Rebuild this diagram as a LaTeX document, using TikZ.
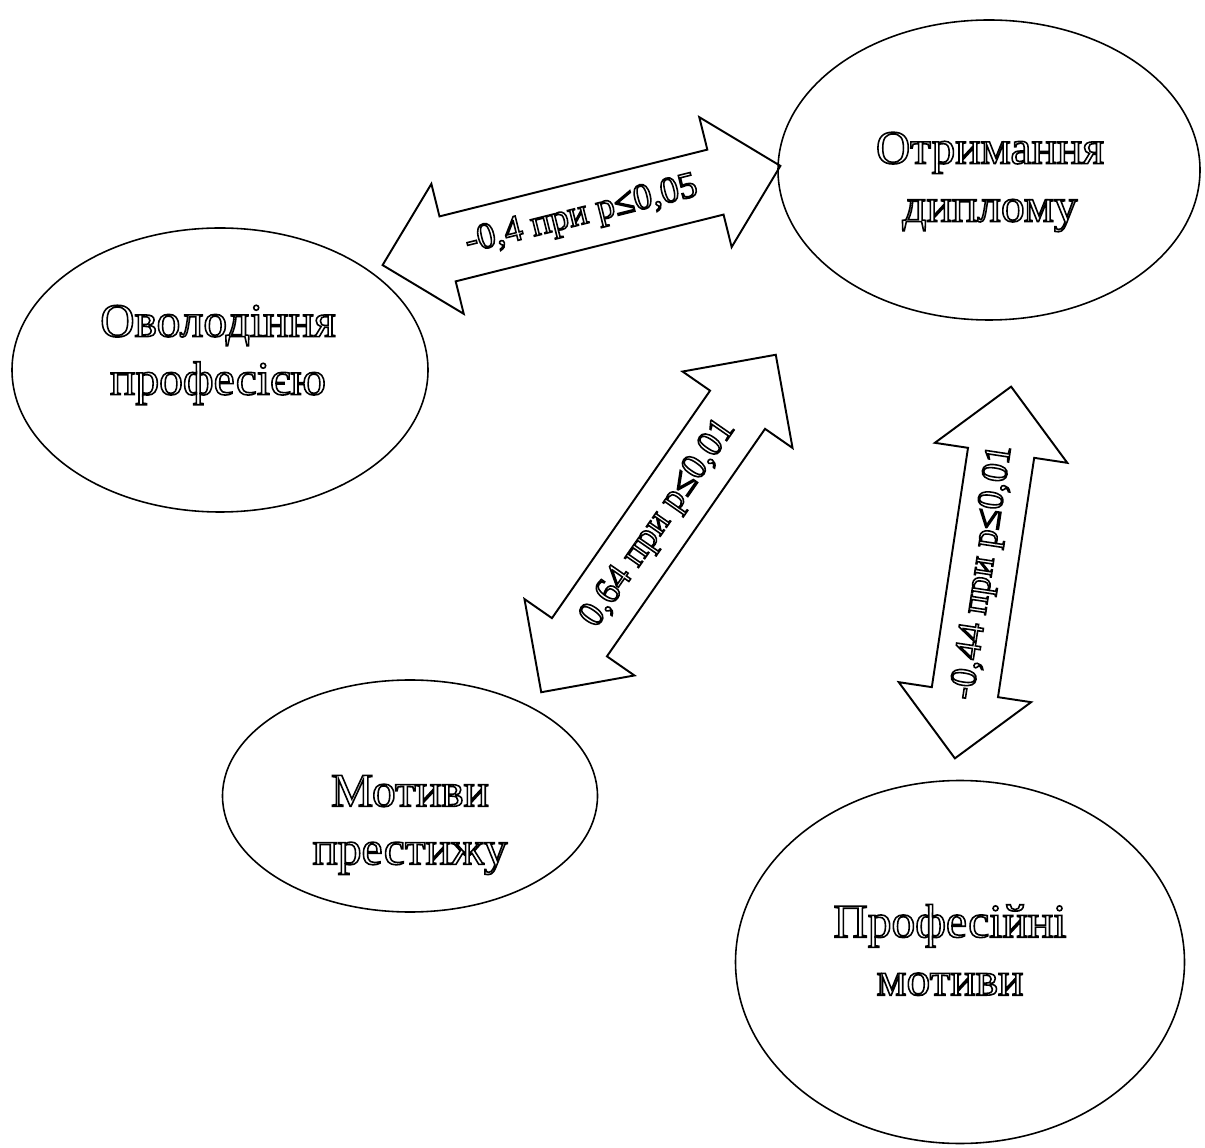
\documentclass[tikz,border=0pt]{standalone}
\usepackage{fontspec}
\setmainfont{Liberation Serif}
\usepackage{tikz}
\usetikzlibrary{shapes.geometric,shapes.arrows}
% hollow (outlined) letters
\newcommand{\hollowon}{\special{pdf:literal direct 1 Tr 0.9 w}}
\newcommand{\hollowoff}{\special{pdf:literal direct 0 Tr}}

\begin{document}
\begin{tikzpicture}
\tikzstyle{el}=[ellipse,draw,line width=0.9pt,inner sep=0pt]
\tikzstyle{tx}=[align=center,font=\fontsize{27}{33}\selectfont]
\tikzstyle{ar}=[double arrow,draw,line width=1.1pt,double arrow head extend=0.67cm,
  inner xsep=0pt,inner ysep=0.325cm,text height=0.5cm,text depth=0.15cm,
  font=\fontsize{21}{25}\selectfont]
\useasboundingbox (0,0) rectangle (24.1,-22.96);
% ellipses
\node[el,minimum width=8.32cm,minimum height=5.68cm] (ov) at (4.40,-7.40) {};
\node[el,minimum width=8.44cm,minimum height=6.00cm] (ot) at (19.78,-3.40) {};
\node[el,minimum width=7.50cm,minimum height=4.64cm] (mp) at (8.20,-15.92) {};
\node[el,minimum width=8.98cm,minimum height=7.26cm] (pm) at (19.20,-19.24) {};
% texts
\node[tx] (ovt) at (4.36,-7.10) {\hollowon Оволодіння\\професією\hollowoff};
\node[tx] (ott) at (19.80,-3.64) {\hollowon Отримання\\диплому\hollowoff};
\node[tx] (mpt) at (8.20,-16.50) {\hollowon Мотиви\\престижу\hollowoff};
\node[tx] (pmt) at (19.00,-19.00) {\hollowon Професійні\\мотиви\hollowoff};
% arrows
\node[ar,minimum height=8.2cm,rotate=14] (a1) at (11.63,-4.31) {\hollowon -0,4 при p≤0,05\hollowoff};
\node[ar,minimum height=8.22cm,rotate=55.2] (a2) at (13.17,-10.47) {\hollowon 0,64 при p≤0,01\hollowoff};
\node[ar,minimum height=7.52cm,rotate=81.4] (a3) at (19.66,-11.45) {\hollowon -0,44 при p≤0,01\hollowoff};
\end{tikzpicture}
\end{document}
